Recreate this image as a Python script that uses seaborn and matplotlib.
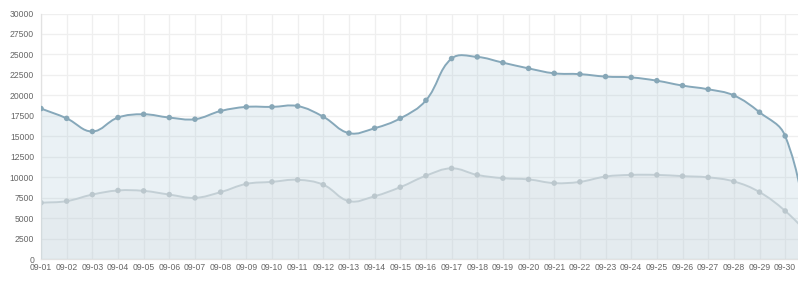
import numpy as np
import pandas as pd
import matplotlib
matplotlib.use("Agg")
import matplotlib.pyplot as plt
from matplotlib.path import Path
from matplotlib.patches import PathPatch
import seaborn as sns

dates = ["09-01", "09-02", "09-03", "09-04", "09-05", "09-06", "09-07", "09-08", "09-09", "09-10",
         "09-11", "09-12", "09-13", "09-14", "09-15", "09-16", "09-17", "09-18", "09-19", "09-20",
         "09-21", "09-22", "09-23", "09-24", "09-25", "09-26", "09-27", "09-28", "09-29", "09-30",
         "10-01"]
series_blue = [18400, 17200, 15600, 17300, 17700, 17300, 17100, 18100, 18600, 18600,
               18700, 17400, 15400, 16000, 17200, 19400, 24500, 24700, 24000, 23300,
               22700, 22600, 22300, 22200, 21800, 21200, 20750, 20000, 17950, 15050,
               2000]
series_gray = [6900, 7100, 7900, 8400, 8350, 7900, 7500, 8200, 9200, 9450,
               9700, 9100, 7100, 7700, 8800, 10200, 11100, 10300, 9900, 9750,
               9300, 9450, 10100, 10300, 10300, 10150, 10000, 9500, 8200, 5900,
               2800]
y_ticks = [0, 2500, 5000, 7500, 10000, 12500, 15000, 17500, 20000, 22500, 25000, 27500, 30000]
visible_labels = dates[:30]

df = pd.DataFrame({"idx": np.arange(len(dates)), "date": dates,
                   "blue": series_blue, "gray": series_gray})

sns.set_style("white")
plt.rcParams["font.family"] = ["Liberation Sans", "DejaVu Sans"]
fig = plt.figure(figsize=(7.98, 2.84), dpi=100)
ax = fig.add_axes([41 / 798, (284 - 259.3) / 284, 1 - 41 / 798, (259.3 - 13.5) / 284])


def bezier_path(ax, xs, ys, tension=0.4):
    pts = ax.transData.transform(np.column_stack([xs, ys]))
    n = len(pts)
    inner = pts.copy()
    outer = pts.copy()
    for i in range(n):
        prev = pts[max(i - 1, 0)]
        nxt = pts[min(i + 1, n - 1)]
        mid = pts[i]
        d01 = np.hypot(*(mid - prev))
        d12 = np.hypot(*(nxt - mid))
        tot = d01 + d12
        if tot == 0:
            continue
        fa = tension * d01 / tot
        fb = tension * d12 / tot
        inner[i] = mid - fa * (nxt - prev)
        outer[i] = mid + fb * (nxt - prev)
    verts = [pts[0]]
    codes = [Path.MOVETO]
    for i in range(1, n):
        verts += [outer[i - 1], inner[i], pts[i]]
        codes += [Path.CURVE4] * 3
    inv = ax.transData.inverted()
    return inv.transform(np.array(verts)), codes


datasets = [
    ("gray", "#cfd5d8", "#c5cbce", (220 / 255, 220 / 255, 220 / 255, 0.2)),
    ("blue", "#86a8ba", "#87a7b7", (151 / 255, 187 / 255, 205 / 255, 0.2)),
]
# points first (seaborn autoscale), then fix limits, then curves
z = 2
for col, lc, pc, fc in datasets:
    sns.scatterplot(data=df, x="idx", y=col, ax=ax, color=pc, s=16, edgecolor="none", zorder=z + 0.2,
                    legend=False)
    z += 1

ax.set_xlim(0, 29.5)
ax.set_ylim(0, 30000)
ax.autoscale(False)

z = 2
for col, lc, pc, fc in datasets:
    verts, codes = bezier_path(ax, df["idx"].values, df[col].values)
    fill_verts = np.vstack([verts, [[df["idx"].iloc[-1], 0], [df["idx"].iloc[0], 0], verts[0]]])
    fill_codes = codes + [Path.LINETO, Path.LINETO, Path.CLOSEPOLY]
    ax.add_patch(PathPatch(Path(fill_verts, fill_codes), facecolor=fc, edgecolor="none", zorder=z))
    ax.add_patch(PathPatch(Path(verts, codes), facecolor="none", edgecolor=lc, linewidth=1.4, zorder=z + 0.1))
    z += 1

ax.set_xticks(np.arange(len(visible_labels)))
ax.set_xticklabels(visible_labels)
ax.set_yticks(y_ticks)
ax.set_yticklabels([str(v) for v in y_ticks])
ax.grid(True, color="#efefef", linewidth=0.9, zorder=0)
ax.set_axisbelow(True)
for s in ["top", "right"]:
    ax.spines[s].set_visible(False)
for s in ["left", "bottom"]:
    ax.spines[s].set_color("#e2e2e2")
    ax.spines[s].set_linewidth(0.9)
ax.tick_params(axis="both", which="both", width=0.9, color="#e8e8e8",
               labelsize=6.2, labelcolor="#666666")
ax.tick_params(axis="x", length=2.5, pad=0.5)
ax.tick_params(axis="y", length=3, pad=2)
ax.set_xlabel("")
ax.set_ylabel("")
fig.savefig("out.png", dpi=100)
